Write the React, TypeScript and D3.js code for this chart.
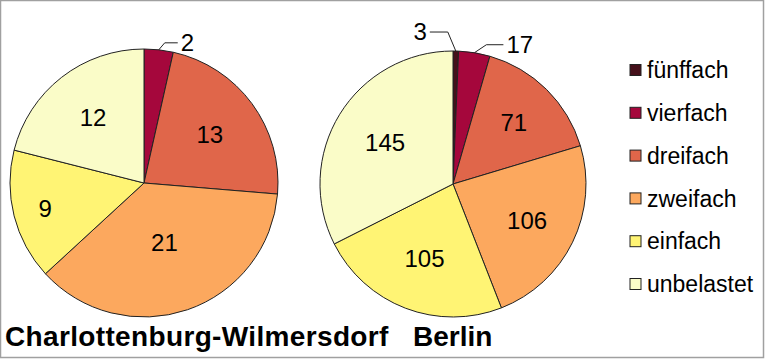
import React from 'react';
import * as d3 from 'd3';

const categories = ['fünffach', 'vierfach', 'dreifach', 'zweifach', 'einfach', 'unbelastet'];
const charlottenburgValues = [0, 2, 13, 21, 9, 12];
const berlinValues = [3, 17, 71, 106, 105, 145];
const regionNames = ['Charlottenburg-Wilmersdorf', 'Berlin'];

const palette = ['#45101a', '#a5073c', '#e0664a', '#fca85e', '#fff474', '#fafcc8'];

const W = 765;
const H = 360;
const FONT = 'Liberation Sans, Arial, sans-serif';

// label radius as fraction of the pie radius (inside labels), per pie
const insideRadius = [
  [0, 0, 0.61, 0.47, 0.76, 0.62],
  [0, 0, 0.65, 0.62, 0.6, 0.6],
];
// outside labels: elbow offset from the rim + horizontal run
const outsideLabels: Record<string, { dx: number; dy: number; run: number }> = {
  '0-1': { dx: 6, dy: -7, run: 13 },
  '1-0': { dx: -8, dy: -19, run: -18 },
  '1-1': { dx: 12, dy: -8, run: 17 },
};

const pies = [
  { values: charlottenburgValues, cx: 144, cy: 183, r: 134 },
  { values: berlinValues, cx: 453, cy: 184, r: 133 },
];

const color = d3.scaleOrdinal<string, string>().domain(categories).range(palette);

const Pie = ({ values, cx, cy, r, idx }: { values: number[]; cx: number; cy: number; r: number; idx: number }) => {
  const arcs = d3.pie<number>().sort(null).value(d => d)(values);
  const arc = d3.arc<d3.PieArcDatum<number>>().innerRadius(0).outerRadius(r);

  return (
    <g transform={`translate(${cx},${cy})`}>
      {arcs.map((a, i) =>
        a.value > 0 ? (
          <path key={i} d={arc(a) || ''} fill={color(categories[i])} stroke="#222" strokeWidth={1} />
        ) : null
      )}
      {arcs.map((a, i) => {
        if (a.value <= 0) return null;
        const mid = (a.startAngle + a.endAngle) / 2;
        const key = `${idx}-${i}`;
        const o = outsideLabels[key];
        if (o) {
          const x0 = r * Math.sin(mid);
          const y0 = -r * Math.cos(mid);
          const x1 = x0 + o.dx;
          const y1 = y0 + o.dy;
          const x2 = x1 + o.run;
          const anchor = o.run < 0 ? 'end' : 'start';
          return (
            <g key={'l' + i}>
              <polyline points={`${x0},${y0} ${x1},${y1} ${x2},${y1}`} fill="none" stroke="#222" strokeWidth={1} />
              <text x={x2 + (o.run < 0 ? -3 : 3)} y={y1 + 8} textAnchor={anchor} fontSize={24} fontFamily={FONT} fill="#000">
                {a.value}
              </text>
            </g>
          );
        }
        const lr = r * insideRadius[idx][i];
        return (
          <text key={'l' + i} x={lr * Math.sin(mid)} y={-lr * Math.cos(mid)} dy="0.36em" textAnchor="middle" fontSize={24} fontFamily={FONT} fill="#000">
            {a.value}
          </text>
        );
      })}
    </g>
  );
};

export default function App() {
  const legendY = d3.scalePoint<string>().domain(categories).range([70, 284]);
  return (
    <svg width={W} height={H} style={{ position: 'absolute', left: 0, top: 0, background: '#fff' }}>
      <rect x={0.5} y={0.5} width={763} height={357} fill="#fff" stroke="#a0a0a0" strokeWidth={1.5} />
      {pies.map((p, i) => (
        <Pie key={i} {...p} idx={i} />
      ))}
      {categories.map(c => (
        <g key={c} transform={`translate(630,${legendY(c)})`}>
          <rect x={0} y={-5.5} width={11} height={11} fill={color(c)} stroke="#222" strokeWidth={1} />
          <text x={17} y={0} dy="0.36em" fontSize={23} fontFamily={FONT} fill="#000">
            {c}
          </text>
        </g>
      ))}
      <text x={5} y={346} fontSize={28} letterSpacing={0.35} fontWeight="bold" fontFamily={FONT} fill="#000">
        {regionNames[0]}
      </text>
      <text x={413} y={346} fontSize={28} fontWeight="bold" fontFamily={FONT} fill="#000">
        {regionNames[1]}
      </text>
    </svg>
  );
}
